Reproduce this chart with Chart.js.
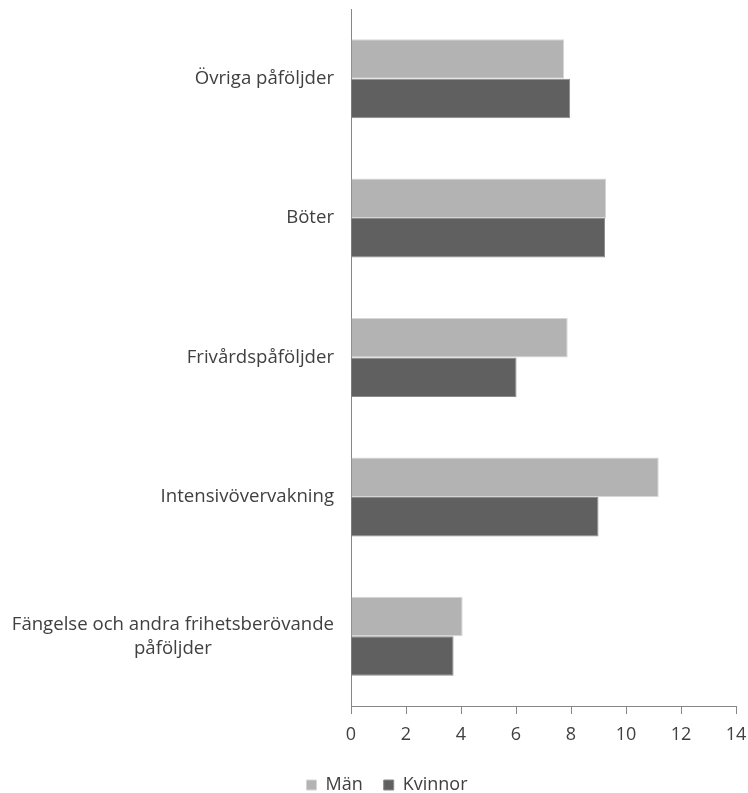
<!DOCTYPE html>
<html lang="sv">
<head>
  <meta charset="UTF-8">
  <title>Påföljder</title>
  <script src="https://cdn.jsdelivr.net/npm/chart.js"></script>
  <style>
    html, body { margin: 0; padding: 0; background: #fff; }
    #wrap { width: 748px; height: 793px; }
  </style>
</head>
<body>
<div id="wrap"><canvas id="chart" width="748" height="793"></canvas></div>
<script>
  // Data
  const categories = [
    ['Övriga påföljder'],
    ['Böter'],
    ['Frivårdspåföljder'],
    ['Intensivövervakning'],
    ['Fängelse och andra frihetsberövande', 'påföljder']
  ];
  const manValues = [7.75, 9.28, 7.88, 11.19, 4.06];
  const kvinnorValues = [7.97, 9.24, 6.02, 9.0, 3.73];
  const xTicks = [0, 2, 4, 6, 8, 10, 12, 14];

  const FONT = 'Open Sans';
  const TEXT = '#404040';
  const AXIS = '#868686';

  // draws the category labels right-aligned, with wrapped lines centered on the widest one
  const categoryLabels = {
    id: 'categoryLabels',
    afterDraw(chart) {
      const ctx = chart.ctx;
      const y = chart.scales.y;
      ctx.save();
      ctx.font = '18.6px ' + FONT;
      ctx.fillStyle = TEXT;
      ctx.textBaseline = 'middle';
      ctx.textAlign = 'center';
      const right = y.right - 17;
      const lh = 24;
      categories.forEach((lines, i) => {
        const cy = y.getPixelForTick(i);
        const widest = Math.max(...lines.map(l => ctx.measureText(l).width));
        const cx = right - widest / 2;
        const top = cy - (lines.length - 1) * lh / 2;
        lines.forEach((l, j) => ctx.fillText(l, cx, top + j * lh));
      });
      ctx.restore();
    }
  };

  new Chart(document.getElementById('chart'), {
    type: 'bar',
    data: {
      labels: categories.map(c => c.join(' ')),
      datasets: [
        { label: 'Män', data: manValues, backgroundColor: '#b3b3b3', borderColor: '#d6d6d6', borderWidth: 1,
          categoryPercentage: 0.567, barPercentage: 1 },
        { label: 'Kvinnor', data: kvinnorValues, backgroundColor: '#606060', borderColor: '#8a8a8a', borderWidth: 1,
          categoryPercentage: 0.567, barPercentage: 1 }
      ]
    },
    options: {
      indexAxis: 'y',
      responsive: false,
      animation: false,
      layout: { padding: { top: 9, right: 0, left: 26, bottom: -11 } },
      plugins: {
        tooltip: { enabled: false },
        legend: {
          position: 'bottom',
          labels: {
            font: { family: FONT, size: 18 },
            color: TEXT,
            boxWidth: 10,
            boxHeight: 10,
            padding: 21
          }
        }
      },
      scales: {
        x: {
          min: 0,
          max: 14,
          afterBuildTicks: s => { s.ticks = xTicks.map(v => ({ value: v })); },
          afterFit: s => { s.height = 49; s.paddingRight = 12; },
          grid: { drawOnChartArea: false, drawTicks: true, tickLength: 8, color: AXIS },
          border: { color: AXIS, width: 1 },
          ticks: { font: { family: FONT, size: 18 }, color: TEXT, padding: 10 }
        },
        y: {
          afterFit: s => { s.width = 325; },
          grid: { display: false },
          border: { color: AXIS, width: 1 },
          ticks: { display: false }
        }
      }
    },
    plugins: [categoryLabels]
  });
</script>
</body>
</html>
